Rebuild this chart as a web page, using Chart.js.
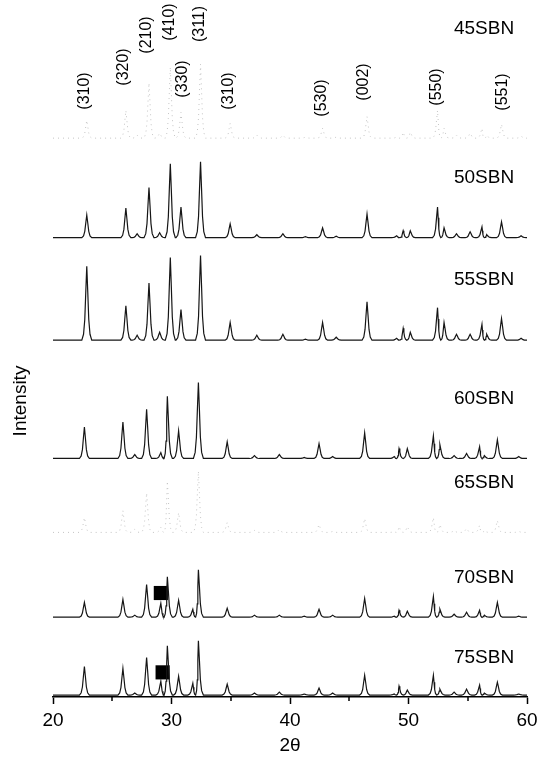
<!DOCTYPE html>
<html><head><meta charset="utf-8">
<script src="https://cdn.jsdelivr.net/npm/chart.js@4"></script>
<style>html,body{margin:0;padding:0;background:#fff}canvas{display:block}</style>
</head><body>
<canvas id="c" width="546" height="762"></canvas>
<script>
// ---------- DATA ----------
const samples = ['45SBN', '50SBN', '55SBN', '60SBN', '65SBN', '70SBN', '75SBN'];
// peak positions (2θ) – low-Sr patterns (45-55SBN) and high-Sr patterns (60-75SBN)
const peaksA = [22.85, 26.15, 27.1, 28.1, 29.0, 29.9, 30.8, 31.9, 32.45, 34.95, 37.2, 39.4, 41.3, 42.75, 43.9, 46.5, 49.0, 49.55, 50.15, 52.45, 53.0, 54.05, 55.2, 56.2, 56.6, 57.85, 59.5];
const peaksB = [22.65, 25.9, 26.9, 27.9, 29.1, 29.65, 30.6, 31.8, 32.27, 34.7, 37.0, 39.1, 41.2, 42.45, 43.6, 46.3, 48.8, 49.2, 49.9, 52.1, 52.65, 53.85, 54.9, 56.0, 56.4, 57.5, 59.3];
// peak intensities (a.u.)
const int45 = [18, 28, 3, 56, 5, 72, 26, 0, 75, 15, 3, 3, 1, 10, 1, 22, 1, 6, 6, 28, 10, 3, 5, 10, 3, 14, 2];
const int50 = [23, 30, 4, 51, 5, 75, 31, 0, 77, 14, 3, 4, 1, 10, 1.5, 24, 2, 7, 7, 31, 10, 4, 6, 11, 3, 16, 2];
const int55 = [75, 35, 5, 58, 8, 84, 31, 0, 86, 18, 5, 6, 1, 18, 3, 39, 2, 12, 8, 33, 18, 6, 6, 16, 6, 22, 2];
const int60 = [32, 37, 4, 50, 6, 63, 28, 0, 77, 17, 3, 4, 1, 15, 2, 26, 2, 10, 10, 23, 14, 3, 5, 12, 3, 19, 2];
const int65 = [15, 22, 3, 40, 5, 52, 20, 0, 62, 10, 2, 3, 0, 8, 1, 14, 1, 6, 6, 15, 8, 2, 4, 7, 2, 12, 1];
const int70 = [15, 18, 2, 33, 14, 41, 17, 8, 48, 9, 2, 2, 1, 8, 2, 19, 1, 7, 6, 21, 8, 3, 5, 7, 2, 15, 1];
const int75 = [29, 27, 2, 38, 14, 50, 19, 12, 55, 11, 2, 3, 1, 7, 2, 20, 1, 9, 5, 20, 6, 3, 6, 10, 2, 13, 1];
// second-phase markers (■) on 70SBN and 75SBN
const markerX = [29.1, 29.25];
const markerI = [24.5, 23];
// Miller index labels
const millerLabels = ['(310)', '(320)', '(210)', '(410)', '(330)', '(311)', '(310)', '(530)', '(002)', '(550)', '(551)'];
const millerPos = [22.7, 25.95, 27.9, 29.85, 30.9, 32.4, 34.8, 42.7, 46.2, 52.4, 57.9];
const xTicks = [20, 30, 40, 50, 60];
const xMinor = [25, 35, 45, 55];

// ---------- LAYOUT / STYLE ----------
const FONT = '"Liberation Sans", Arial, sans-serif';
const offsets = [567, 466, 362, 242, 167, 81, 2];         // vertical stacking offsets
const labelX = 484;
const labelY = [29, 178, 280, 399, 483, 578, 658];
const millerY = [91, 67, 35, 22, 79, 24, 91, 98, 82, 87, 92];
const faint = [true, false, false, false, true, false, false];
const PEAK_HW = 0.42;
const SHAPE = [[-1, 0], [-0.65, 0.08], [-0.4, 0.28], [-0.2, 0.65], [0, 1], [0.2, 0.65], [0.4, 0.28], [0.65, 0.08], [1, 0]];

function trace(pos, h, off) {
  const pk = pos.map((p, i) => [p, h[i]]).filter(d => d[1] > 0).sort((a, b) => a[0] - b[0]);
  const pts = [{x: 20, y: off}];
  pk.forEach(([c, v], k) => {
    const lw = Math.min(PEAK_HW, k > 0 ? (c - pk[k - 1][0]) / 2 : PEAK_HW);
    const rw = Math.min(PEAK_HW, k < pk.length - 1 ? (pk[k + 1][0] - c) / 2 : PEAK_HW);
    SHAPE.forEach(([dx, f]) => pts.push({x: c + dx * (dx < 0 ? lw : rw), y: off + f * v}));
  });
  pts.push({x: 60, y: off});
  return pts;
}

const seriesPos = [peaksA, peaksA, peaksA, peaksB, peaksB, peaksB, peaksB];
const seriesInt = [int45, int50, int55, int60, int65, int70, int75];

const datasets = samples.map((s, i) => ({
  type: 'line',
  label: s,
  data: trace(seriesPos[i], seriesInt[i], offsets[i]),
  borderColor: faint[i] ? '#c4c4c4' : '#161616',
  borderWidth: faint[i] ? 1 : 1.2,
  borderDash: faint[i] ? [1, 4] : [],
  pointRadius: 0,
  tension: 0,
  fill: false
}));
datasets.push({
  type: 'scatter',
  label: 'marker',
  data: markerX.map((x, i) => ({x, y: offsets[5 + i] + markerI[i]})),
  pointStyle: 'rect',
  pointRadius: 10,
  backgroundColor: '#000',
  borderWidth: 0
});

const textPlugin = {
  id: 'texts',
  afterDraw(chart) {
    const ctx = chart.ctx, xs = chart.scales.x;
    ctx.save();
    ctx.fillStyle = '#000';
    ctx.textAlign = 'center';
    ctx.textBaseline = 'middle';
    ctx.font = '19px ' + FONT;
    samples.forEach((s, i) => ctx.fillText(s, labelX, labelY[i]));
    ctx.save(); ctx.translate(20.5, 401); ctx.rotate(-Math.PI / 2); ctx.fillText('Intensity', 0, 0); ctx.restore();
    ctx.font = '16px ' + FONT;
    millerLabels.forEach((t, i) => {
      ctx.save();
      ctx.translate(xs.getPixelForValue(millerPos[i]), millerY[i]);
      ctx.rotate(-Math.PI / 2);
      ctx.fillText(t, 0, 0);
      ctx.restore();
    });
    const yb = chart.chartArea.bottom;
    ctx.strokeStyle = '#000'; ctx.lineWidth = 1.5;
    xMinor.forEach(v => {
      const x = Math.round(xs.getPixelForValue(v));
      ctx.beginPath(); ctx.moveTo(x, yb); ctx.lineTo(x, yb + 4); ctx.stroke();
    });
    ctx.restore();
  }
};

new Chart(document.getElementById('c'), {
  data: {datasets},
  options: {
    responsive: false,
    animation: false,
    devicePixelRatio: 1,
    layout: {padding: {left: 53, right: 19, top: 0, bottom: 0}},
    plugins: {legend: {display: false}, tooltip: {enabled: false}},
    scales: {
      x: {
        type: 'linear', min: 20, max: 60, position: 'bottom',
        afterBuildTicks: s => { s.ticks = xTicks.map(v => ({value: v})); },
        afterFit: s => { s.height = 65; },
        ticks: {color: '#000', font: {family: FONT, size: 19}, padding: 5, maxRotation: 0, autoSkip: false},
        grid: {drawOnChartArea: false, drawTicks: true, tickLength: 7, tickWidth: 1.5, tickColor: '#000'},
        border: {display: true, color: '#000', width: 1.6},
        title: {display: true, text: '2θ', color: '#000', font: {family: FONT, size: 19}, padding: {top: 0, bottom: 5}}
      },
      y: {display: false, min: 0, max: 697}
    }
  },
  plugins: [textPlugin]
});
</script>
</body></html>
